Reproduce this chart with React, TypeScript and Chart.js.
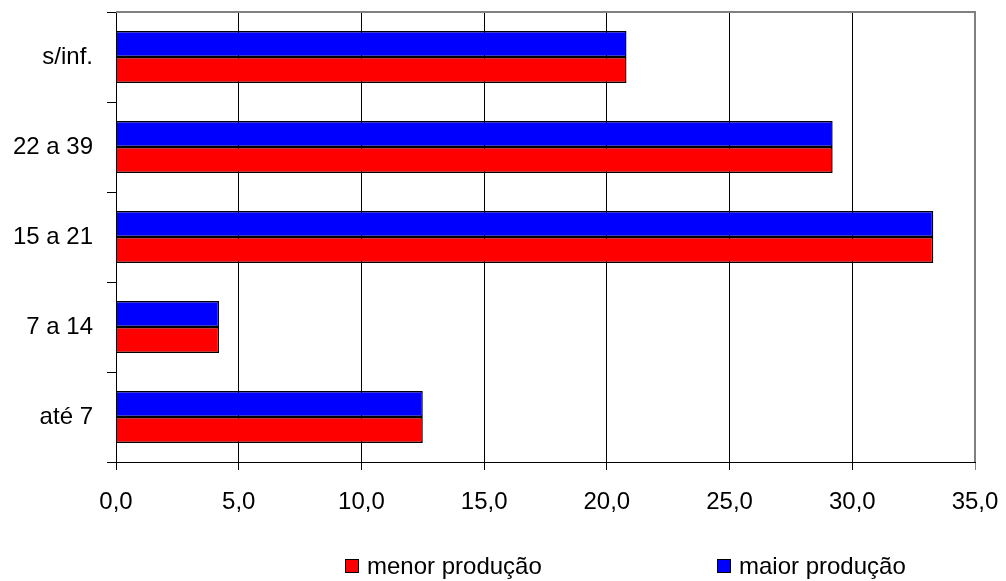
import React, { useEffect, useRef } from "react";
import { Chart, registerables } from "chart.js";

Chart.register(...registerables);

const categories = ["s/inf.", "22 a 39", "15 a 21", "7 a 14", "até 7"];
const menorProducao = [20.8, 29.2, 33.3, 4.2, 12.5];
const maiorProducao = [20.8, 29.2, 33.3, 4.2, 12.5];
const seriesNames = ["menor produção", "maior produção"];
const seriesColors = ["#ff0000", "#0000ff"];
const xMin = 0;
const xMax = 35;
const xStep = 5;

const FONT = "'Liberation Sans', Arial, sans-serif";
const FONT_SIZE = 24;

const framePlugin = {
  id: "frame",
  beforeDatasetsDraw(chart: any) {
    const { ctx, chartArea } = chart;
    ctx.save();
    ctx.strokeStyle = "#808080";
    ctx.lineWidth = 2;
    ctx.beginPath();
    ctx.moveTo(chartArea.left, chartArea.top);
    ctx.lineTo(chartArea.right, chartArea.top);
    ctx.lineTo(chartArea.right, chartArea.bottom);
    ctx.stroke();
    ctx.restore();
  },
};

export default function App() {
  const ref = useRef<HTMLCanvasElement | null>(null);

  useEffect(() => {
    if (!ref.current) return;
    const chart = new Chart(ref.current, {
      type: "bar",
      data: {
        labels: categories,
        datasets: [
          {
            label: seriesNames[1],
            data: maiorProducao,
            backgroundColor: seriesColors[1],
            borderColor: "#000000",
            borderWidth: 1.5,
            categoryPercentage: 0.58,
            barPercentage: 1,
          },
          {
            label: seriesNames[0],
            data: menorProducao,
            backgroundColor: seriesColors[0],
            borderColor: "#000000",
            borderWidth: 1.5,
            categoryPercentage: 0.58,
            barPercentage: 1,
          },
        ],
      },
      options: {
        indexAxis: "y",
        responsive: false,
        animation: false,
        layout: { padding: { top: 12, right: 31, left: 0, bottom: 0 } },
        plugins: {
          legend: { display: false },
          tooltip: { enabled: false },
        },
        scales: {
          x: {
            min: xMin,
            max: xMax,
            ticks: {
              stepSize: xStep,
              color: "#000",
              font: { family: FONT, size: FONT_SIZE },
              padding: 18,
              maxRotation: 0,
              callback: (v: any) => Number(v).toFixed(1).replace(".", ","),
            },
            grid: {
              color: (c: any) => (c.tick && c.tick.value === xMax ? "#808080" : "#000000"),
              lineWidth: 1,
              tickLength: 8,
            },
            border: { display: true, color: "#000000", width: 1 },
            afterFit: (s: any) => {
              s.height = 119;
              s.paddingLeft = 0;
              s.paddingRight = 0;
            },
          },
          y: {
            offset: true,
            ticks: {
              color: "#000",
              font: { family: FONT, size: FONT_SIZE },
              padding: 14,
            },
            grid: {
              offset: true,
              drawOnChartArea: false,
              drawTicks: true,
              tickLength: 9,
              color: "#000000",
            },
            border: { display: true, color: "#000000", width: 1 },
            afterFit: (s: any) => {
              s.width = 116;
              s.paddingTop = 0;
              s.paddingBottom = 0;
            },
          },
        },
      },
      plugins: [framePlugin],
    });
    return () => chart.destroy();
  }, []);

  const legendItem = (name: string, color: string, left: number) => (
    <div
      style={{
        position: "absolute",
        left,
        top: 551,
        height: 30,
        display: "flex",
        alignItems: "center",
        fontFamily: FONT,
        fontSize: FONT_SIZE,
        color: "#000",
        lineHeight: "30px",
        whiteSpace: "nowrap",
      }}
    >
      <span
        style={{
          display: "inline-block",
          width: 12,
          height: 12,
          background: color,
          border: "1.5px solid #000",
          marginRight: 8,
        }}
      />
      {name}
    </div>
  );

  return (
    <div style={{ position: "absolute", left: 0, top: 0, width: 1006, height: 581, background: "#fff" }}>
      <canvas ref={ref} width={1006} height={581} style={{ display: "block" }} />
      {legendItem(seriesNames[0], seriesColors[0], 345)}
      {legendItem(seriesNames[1], seriesColors[1], 717)}
    </div>
  );
}
